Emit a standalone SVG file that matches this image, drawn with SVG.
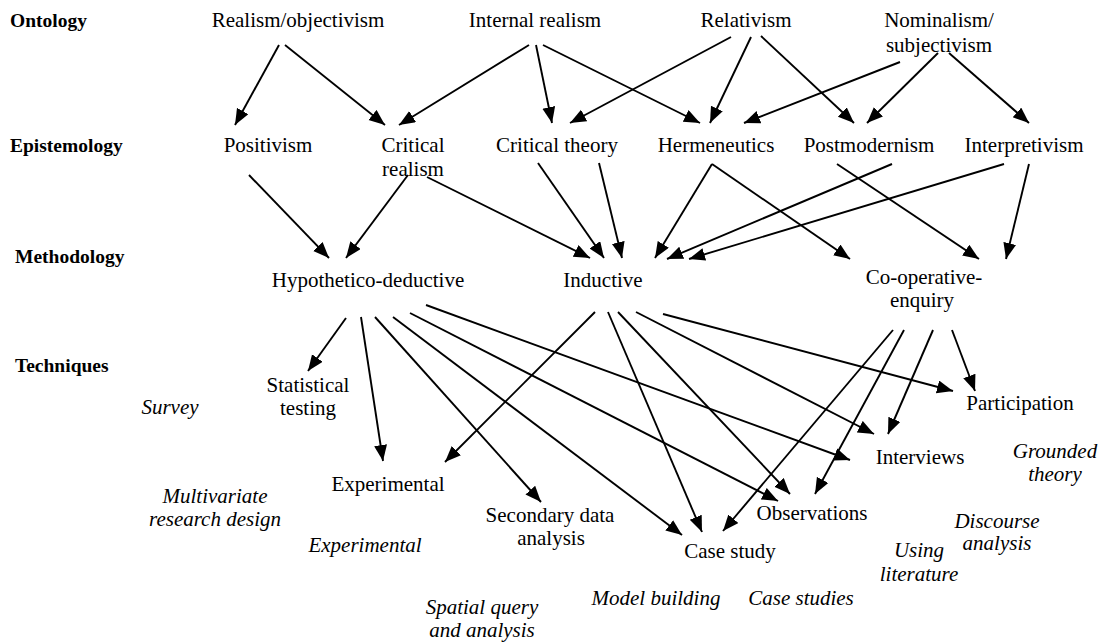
<svg xmlns="http://www.w3.org/2000/svg" width="1112" height="642" viewBox="0 0 1112 642">
  <style>
    text { font-family: "Liberation Serif", "Times New Roman", Times, serif; fill: #000; }
    .lvl { font-weight: bold; font-size: 19.5px; }
    .n { font-size: 21px; text-anchor: middle; }
    .it { font-size: 21px; font-style: italic; text-anchor: middle; }
    #connectors line { stroke: #000; stroke-width: 1.9; marker-end: url(#head); }
  </style>
  <defs>
    <!-- solid triangular arrowhead, fixed size in user units -->
    <marker id="head" markerUnits="userSpaceOnUse" markerWidth="17" markerHeight="14" refX="16" refY="6.5" orient="auto">
      <path d="M0,0 L16,6.5 L0,13 Z" fill="#000"/>
    </marker>
  </defs>
  <rect width="1112" height="642" fill="#fff"/>

  <!-- level headings -->
  <g id="levels">
    <text class="lvl" x="10" y="27">Ontology</text>
    <text class="lvl" x="10" y="152">Epistemology</text>
    <text class="lvl" x="15" y="263">Methodology</text>
    <text class="lvl" x="15" y="372">Techniques</text>
  </g>

  <!-- ontology -->
  <g id="realism-objectivism"><text class="n" x="298" y="27">Realism/objectivism</text></g>
  <g id="internal-realism"><text class="n" x="535" y="27">Internal realism</text></g>
  <g id="relativism"><text class="n" x="746" y="27">Relativism</text></g>
  <g id="nominalism"><text class="n" x="939" y="27">Nominalism/</text><text class="n" x="939" y="52">subjectivism</text></g>

  <!-- epistemology -->
  <g id="positivism"><text class="n" x="268" y="152">Positivism</text></g>
  <g id="critical-realism"><text class="n" x="413" y="152">Critical</text><text class="n" x="413" y="176">realism</text></g>
  <g id="critical-theory"><text class="n" x="557" y="152">Critical theory</text></g>
  <g id="hermeneutics"><text class="n" x="716" y="152">Hermeneutics</text></g>
  <g id="postmodernism"><text class="n" x="869" y="152">Postmodernism</text></g>
  <g id="interpretivism"><text class="n" x="1024" y="152">Interpretivism</text></g>

  <!-- methodology -->
  <g id="hypothetico-deductive"><text class="n" x="368" y="287">Hypothetico-deductive</text></g>
  <g id="inductive"><text class="n" x="603" y="287">Inductive</text></g>
  <g id="co-operative-enquiry"><text class="n" x="924" y="284">Co-operative-</text><text class="n" x="922" y="307">enquiry</text></g>

  <!-- techniques -->
  <g id="statistical-testing"><text class="n" x="308" y="392">Statistical</text><text class="n" x="308" y="415">testing</text></g>
  <g id="experimental"><text class="n" x="388" y="491">Experimental</text></g>
  <g id="secondary-data-analysis"><text class="n" x="550" y="522">Secondary data</text><text class="n" x="551" y="545">analysis</text></g>
  <g id="case-study"><text class="n" x="730" y="558">Case study</text></g>
  <g id="observations"><text class="n" x="812" y="520">Observations</text></g>
  <g id="interviews"><text class="n" x="920" y="464">Interviews</text></g>
  <g id="participation"><text class="n" x="1020" y="410">Participation</text></g>

  <!-- italic examples -->
  <g id="examples">
    <text class="it" x="170" y="414">Survey</text>
    <text class="it" x="215" y="503">Multivariate</text>
    <text class="it" x="215" y="526">research design</text>
    <text class="it" x="365" y="552">Experimental</text>
    <text class="it" x="482" y="614">Spatial query</text>
    <text class="it" x="482" y="637">and analysis</text>
    <text class="it" x="656" y="605">Model building</text>
    <text class="it" x="801" y="605">Case studies</text>
    <text class="it" x="919" y="557">Using</text>
    <text class="it" x="919" y="581">literature</text>
    <text class="it" x="997" y="528">Discourse</text>
    <text class="it" x="997" y="550">analysis</text>
    <text class="it" x="1055" y="458">Grounded</text>
    <text class="it" x="1055" y="481">theory</text>
  </g>

  <g id="connectors">
    <!-- ontology to epistemology -->
    <line x1="279" y1="45" x2="235" y2="125"/>
    <line x1="285" y1="45" x2="385" y2="125"/>
    <line x1="529" y1="45" x2="399" y2="125"/>
    <line x1="536" y1="45" x2="552" y2="123"/>
    <line x1="543" y1="45" x2="700" y2="123"/>
    <line x1="731" y1="37" x2="570" y2="123"/>
    <line x1="751" y1="37" x2="710" y2="123"/>
    <line x1="761" y1="36" x2="854" y2="123"/>
    <line x1="900" y1="62" x2="744" y2="123"/>
    <line x1="938" y1="53" x2="867" y2="123"/>
    <line x1="949" y1="53" x2="1029" y2="123"/>
    <!-- epistemology to methodology -->
    <line x1="249" y1="175" x2="329" y2="258"/>
    <line x1="408" y1="175" x2="346" y2="258"/>
    <line x1="427" y1="177" x2="590" y2="258"/>
    <line x1="538" y1="163" x2="604" y2="258"/>
    <line x1="599" y1="163" x2="622" y2="258"/>
    <line x1="712" y1="164" x2="655" y2="258"/>
    <line x1="712" y1="164" x2="850" y2="259"/>
    <line x1="892" y1="164" x2="667" y2="259"/>
    <line x1="837" y1="164" x2="979" y2="259"/>
    <line x1="1004" y1="164" x2="689" y2="259"/>
    <line x1="1029" y1="164" x2="1006" y2="259"/>
    <!-- methodology to techniques -->
    <line x1="346" y1="318" x2="308" y2="371"/>
    <line x1="361" y1="317" x2="383" y2="461"/>
    <line x1="375" y1="317" x2="541" y2="502"/>
    <line x1="393" y1="317" x2="682" y2="535"/>
    <line x1="410" y1="313" x2="778" y2="501"/>
    <line x1="426" y1="305" x2="850" y2="460"/>
    <line x1="595" y1="312" x2="445" y2="462"/>
    <line x1="608" y1="312" x2="702" y2="532"/>
    <line x1="618" y1="312" x2="790" y2="494"/>
    <line x1="636" y1="312" x2="874" y2="434"/>
    <line x1="663" y1="314" x2="953" y2="391"/>
    <line x1="893" y1="330" x2="723" y2="531"/>
    <line x1="904" y1="330" x2="815" y2="494"/>
    <line x1="933" y1="330" x2="888" y2="434"/>
    <line x1="952" y1="330" x2="975" y2="391"/>
  </g>
</svg>
